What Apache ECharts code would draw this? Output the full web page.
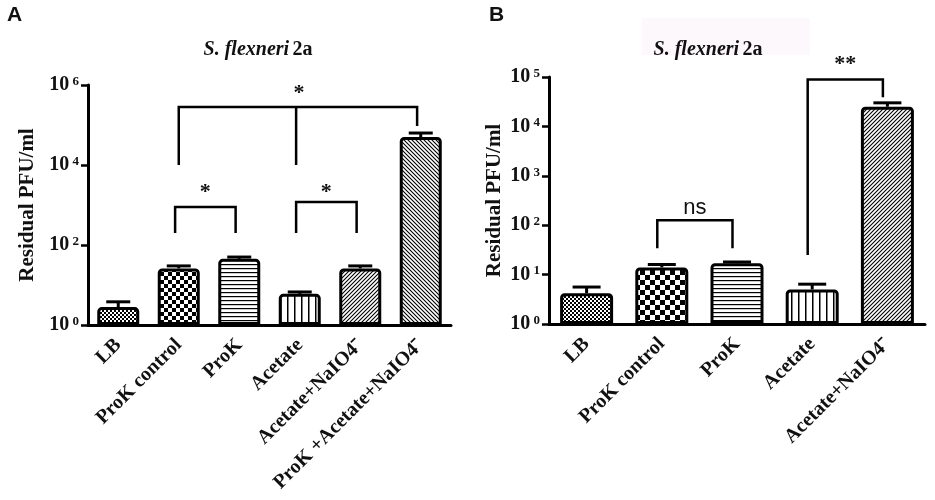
<!DOCTYPE html>
<html>
<head>
<meta charset="utf-8">
<title>S. flexneri 2a residual PFU</title>
<script src="https://cdn.jsdelivr.net/npm/echarts@6/dist/echarts.min.js"></script>
<style>
  html, body { margin: 0; padding: 0; background: #fff; }
  #chart { width: 935px; height: 500px; }
</style>
</head>
<body>
<div id="chart"></div>
<script>
// panel A
const categoriesA = ['LB', 'ProK control', 'ProK', 'Acetate', 'Acetate+NaIO4⁻', 'ProK +Acetate+NaIO4⁻'];
const meansA = [2.8, 26, 45, 6, 26, 50000];
const upperA = [3.8, 30, 50, 6.7, 30, 63000];
const patternsA = ['fineChecker', 'checker', 'hlines', 'vlines', 'slash', 'backslash'];
// [from, to, top value, left leg end, right leg end, middle leg index, label, label value]
const bracketsA = [
    [1, 5, 280000, 10000, 94000, 3, '*', 800000],
    [1, 2, 890, 200, 200, null, '*', 2600],
    [3, 4, 1190, 200, 200, null, '*', 2600]
];

// panel B
const categoriesB = ['LB', 'ProK control', 'ProK', 'Acetate', 'Acetate+NaIO4⁻'];
const meansB = [4.2, 14, 17, 5, 25000];
const upperB = [5.6, 16, 18, 6.4, 30000];
const patternsB = ['fineChecker', 'checkerBig', 'hlines', 'vlines', 'slash'];
const bracketsB = [
    [1, 2, 126, 34, 34, null, 'ns', 220],
    [3, 4, 89000, 25, 39000, null, '**', 215000]
];

const serif = 'Liberation Serif, Times New Roman, serif';
const sans = 'Liberation Sans, Arial, sans-serif';

// hatch fills drawn on small repeating canvases
function makePattern(kind) {
    const c = document.createElement('canvas');
    const ctx = c.getContext('2d');
    let s = 4;
    if (kind === 'checker') s = 8;
    if (kind === 'checkerBig') s = 10;
    if (kind === 'vlines') s = 7;
    c.width = s; c.height = s;
    ctx.fillStyle = '#fff';
    ctx.fillRect(0, 0, s, s);
    ctx.fillStyle = '#000';
    ctx.strokeStyle = '#000';
    if (kind === 'fineChecker' || kind === 'checker' || kind === 'checkerBig') {
        const h = s / 2;
        ctx.fillRect(0, 0, h, h);
        ctx.fillRect(h, h, h, h);
    } else if (kind === 'hlines') {
        ctx.fillRect(0, 0, s, 1.2);
    } else if (kind === 'vlines') {
        ctx.fillRect(0, 0, 1.5, s);
    } else {
        ctx.lineWidth = 1.1;
        ctx.beginPath();
        if (kind === 'slash') {
            ctx.moveTo(0, s); ctx.lineTo(s, 0);
            ctx.moveTo(-1, 1); ctx.lineTo(1, -1);
            ctx.moveTo(s - 1, s + 1); ctx.lineTo(s + 1, s - 1);
        } else {
            ctx.moveTo(0, 0); ctx.lineTo(s, s);
            ctx.moveTo(-1, s - 1); ctx.lineTo(1, s + 1);
            ctx.moveTo(s - 1, -1); ctx.lineTo(s + 1, 1);
        }
        ctx.stroke();
    }
    return { image: c, repeat: 'repeat' };
}

function tickLabel(value) {
    const e = Math.round(Math.log10(value));
    return '{b|10}{s| ' + e + '}';
}

const tickRich = {
    b: { fontFamily: serif, fontWeight: 'bold', fontSize: 20, color: '#111', lineHeight: 20 },
    s: { fontFamily: serif, fontWeight: 'bold', fontSize: 13, color: '#111', verticalAlign: 'top', lineHeight: 13 }
};

function xAxisCfg(cats, grid) {
    return {
        type: 'category', gridIndex: grid, data: cats,
        axisLine: { lineStyle: { color: '#000', width: 3 } },
        axisTick: { alignWithLabel: true, length: 8, lineStyle: { color: '#000', width: 2.5 } },
        axisLabel: {
            interval: 0, rotate: 45, margin: 17, color: '#111',
            fontFamily: serif, fontWeight: 'bold', fontSize: 20
        }
    };
}

function yAxisCfg(grid, base, max, gap) {
    return {
        type: 'log', gridIndex: grid, logBase: base, min: 1, max: max,
        name: 'Residual PFU/ml', nameLocation: 'middle', nameGap: gap,
        nameTextStyle: { fontFamily: serif, fontWeight: 'bold', fontSize: 21, color: '#111' },
        axisLine: { show: true, lineStyle: { color: '#000', width: 3 } },
        axisTick: { show: true, length: 7, lineStyle: { color: '#000', width: 2.5 } },
        splitLine: { show: false },
        minorTick: { show: false },
        axisLabel: { margin: 9, formatter: tickLabel, rich: tickRich }
    };
}

function barSeries(means, pats, grid, width) {
    return {
        type: 'bar', xAxisIndex: grid, yAxisIndex: grid, barWidth: width,
        data: means.map((v, i) => ({
            value: v,
            itemStyle: { color: makePattern(pats[i]) }
        })),
        itemStyle: { borderColor: '#000', borderWidth: 3, borderRadius: [3, 3, 0, 0] },
        silent: true, z: 2
    };
}

function errorSeries(means, upper, grid, cap) {
    return {
        type: 'custom', xAxisIndex: grid, yAxisIndex: grid,
        data: upper.map((u, i) => [i, means[i], u]),
        encode: { x: 0, y: 2 },
        renderItem: function (params, api) {
            const p0 = api.coord([api.value(0), api.value(1)]);
            const p1 = api.coord([api.value(0), api.value(2)]);
            const st = { stroke: '#000', lineWidth: 3 };
            return {
                type: 'group',
                children: [
                    { type: 'line', shape: { x1: p0[0], y1: p0[1], x2: p1[0], y2: p1[1] }, style: st },
                    { type: 'line', shape: { x1: p1[0] - cap / 2, y1: p1[1], x2: p1[0] + cap / 2, y2: p1[1] }, style: st }
                ]
            };
        },
        silent: true, z: 3
    };
}

function bracketSeries(brackets, grid) {
    return {
        type: 'custom', xAxisIndex: grid, yAxisIndex: grid,
        data: brackets.map(b => [b[0], b[2]]),
        encode: { x: 0, y: 1 },
        clip: false,
        renderItem: function (params, api) {
            const b = brackets[params.dataIndex];
            const band = api.size([1, 0])[0];
            const shift = -0.06 * band;
            const xl = api.coord([b[0], b[2]])[0] + (b[5] != null ? 0 : shift);
            const xr = api.coord([b[1], b[2]])[0] + shift;
            const yt = api.coord([b[0], b[2]])[1];
            const yl = api.coord([b[0], b[3]])[1];
            const yr = api.coord([b[1], b[4]])[1];
            const st = { stroke: '#000', lineWidth: 2.5 };
            const kids = [
                { type: 'polyline', shape: { points: [[xl, yl], [xl, yt], [xr, yt], [xr, yr]] }, style: Object.assign({ fill: null }, st) }
            ];
            let lx = (xl + xr) / 2;
            if (b[5] != null) {
                const xm = api.coord([b[5], b[2]])[0] + shift;
                kids.push({ type: 'line', shape: { x1: xm, y1: yt, x2: xm, y2: yl }, style: st });
                lx = xm + 3;
            }
            const ly = api.coord([b[0], b[7]])[1];
            const font = b[6] === 'ns' ? 'normal 22px ' + sans : 'bold 22px ' + serif;
            kids.push({
                type: 'text',
                style: { text: b[6], x: lx, y: ly + (b[6] === 'ns' ? 0 : 4), align: 'center', verticalAlign: 'middle', fill: '#111', font: font }
            });
            return { type: 'group', children: kids };
        },
        silent: true, z: 4
    };
}

const titleRich = {
    i: { fontFamily: serif, fontWeight: 'bold', fontStyle: 'italic', fontSize: 20, fill: '#111' },
    n: { fontFamily: serif, fontWeight: 'bold', fontSize: 20, fill: '#111' }
};

const chart = echarts.init(document.getElementById('chart'));
chart.setOption({
    animation: false,
    backgroundColor: '#fff',
    grid: [
        { left: 88, top: 85, width: 363, height: 240 },
        { left: 549, top: 77, width: 376, height: 247 }
    ],
    xAxis: [xAxisCfg(categoriesA, 0), xAxisCfg(categoriesB, 1)],
    yAxis: [yAxisCfg(0, 100, 1e6, 50), yAxisCfg(1, 10, 1e5, 44)],
    series: [
        barSeries(meansA, patternsA, 0, 42),
        errorSeries(meansA, upperA, 0, 24),
        bracketSeries(bracketsA, 0),
        barSeries(meansB, patternsB, 1, 53),
        errorSeries(meansB, upperB, 1, 28),
        bracketSeries(bracketsB, 1)
    ],
    graphic: [
        { type: 'rect', shape: { x: 642, y: 18, width: 168, height: 37 }, style: { fill: '#fdf8fc' }, z: -1 },
        { type: 'text', style: { text: 'A', x: 7, y: 15, font: 'bold 21px ' + sans, fill: '#111', verticalAlign: 'middle' } },
        { type: 'text', style: { text: 'B', x: 489, y: 15, font: 'bold 21px ' + sans, fill: '#111', verticalAlign: 'middle' } },
        { type: 'text', style: { text: '{i|S. flexneri} {n|2a}', rich: titleRich, x: 258, y: 50, align: 'center', verticalAlign: 'middle' } },
        { type: 'text', style: { text: '{i|S. flexneri} {n|2a}', rich: titleRich, x: 708, y: 50, align: 'center', verticalAlign: 'middle' } }
    ]
});
</script>
</body>
</html>
